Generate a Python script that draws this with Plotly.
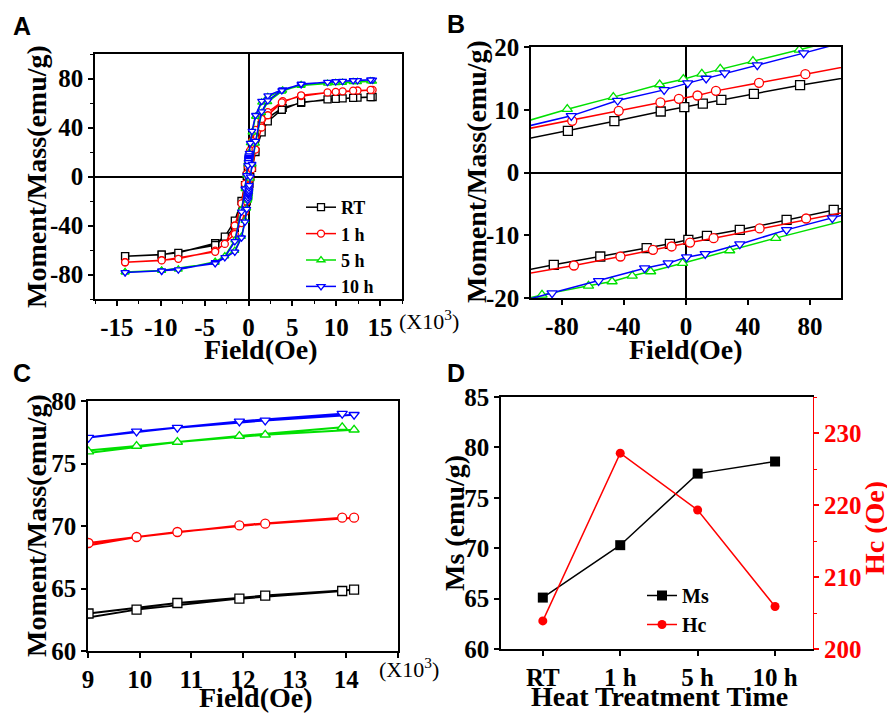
import plotly.graph_objects as go

FIG_W, FIG_H = 887, 713
SERIF = "Liberation Serif"
SANS = "Liberation Sans"

# ---------------- hysteresis loops (field in Oe, moment in emu/g) ----------------
SAMPLES = ["RT", "1 h", "5 h", "10 h"]
COLORS = ["#000000", "#FF0000", "#00E000", "#0000FF"]
SYMBOLS = ["square", "circle", "triangle-up", "triangle-down"]

# RT
RT_DESC_H = [14150, 12430, 10730, 9010, 6000, 3900, 2200, 1500, 800, 400, 200,
             73.6, 43.8, 22.8, 10.85, -1.1, -16.3, -46.2, -76.2,
             -200, -400, -800, -1560, -2700, -3800, -8000, -9900, -14070]
RT_DESC_M = [64.91, 64.43, 63.84, 63.00, 60.1, 56.1, 47.9, 42.0, 33.0, 26.0, 19.0,
             13.92, 12.54, 11.58, 10.99, 10.41, 9.72, 8.18, 6.64,
             0.5, -7.0, -20.0, -36.0, -49.0, -54.5, -62.3, -63.7, -65.0]
RT_ASC_H = [-14070, -9900, -3800, -1560, -800, -400, -200,
            -85.3, -55.3, -25.4, -10.4, 1.5, 13.5, 34.7, 64.9, 95.3,
            200, 400, 800, 1500, 2200, 3800, 6000, 9940, 11930, 13920]
RT_ASC_M = [-65.0, -63.8, -56.1, -42.0, -33.0, -26.0, -20.3,
            -14.71, -13.39, -12.06, -11.37, -10.73, -10.09, -9.14, -7.54, -5.95,
            -0.5, 7.0, 20.0, 36.0, 45.0, 54.5, 60.7, 63.31, 64.19, 64.80]

# 1 h
H1_DESC_H = [14150, 12430, 10730, 9010, 6000, 3900, 2200, 1500, 800, 400, 200,
             77.0, 47.1, 19.3, 7.4, -4.6, -16.5, -43.4, -73.4,
             -200, -400, -800, -1560, -2700, -3800, -8000, -9900, -14070]
H1_DESC_M = [70.67, 70.19, 69.52, 68.64, 65.6, 61.5, 52.5, 47.0, 38.0, 29.0, 21.3,
             15.67, 14.29, 13.01, 12.27, 11.74, 11.16, 9.83, 8.23,
             2.2, -6.0, -22.0, -40.0, -55.0, -60.5, -67.2, -68.3, -70.0]
H1_ASC_H = [-14070, -9900, -3800, -1560, -800, -400, -200,
            -72.3, -42.3, -21.3, -9.3, 2.6, 17.8, 47.5, 77.5,
            200, 400, 800, 1500, 2200, 3800, 6000, 9940, 11930, 13920]
H1_ASC_M = [-70.0, -68.5, -61.5, -47.0, -38.0, -29.0, -20.4,
            -14.82, -13.39, -12.32, -11.79, -11.16, -10.46, -8.92, -7.33,
            -1.57, 6.0, 22.0, 40.0, 50.0, 60.5, 66.3, 69.12, 70.05, 70.67]

# 5 h
H5_DESC_H = [14150, 12430, 10730, 9010, 6000, 3900, 2200, 1500, 800, 400, 200,
             73.1, 43.2, 22.1, 10.2, -1.7, -17.0, -46.9, -76.6,
             -200, -400, -800, -1560, -2700, -3800, -8000, -9900, -14070]
H5_DESC_M = [77.70, 77.30, 76.72, 75.95, 74.3, 70.3, 65.0, 60.5, 49.0, 36.0, 27.5,
             19.55, 17.74, 16.52, 15.72, 14.87, 14.02, 12.01, 10.09,
             1.1, -10.0, -27.0, -52.0, -65.0, -69.5, -75.8, -76.7, -78.0]
H5_ASC_H = [-14070, -9900, -3800, -1560, -800, -400, -200,
            -92.9, -62.9, -47.7, -34.7, -22.8, -2.2, 28.2, 57.9,
            200, 400, 800, 1500, 2200, 3800, 6000, 9940, 11930, 13920]
H5_ASC_M = [-78.0, -76.8, -70.3, -60.5, -49.0, -36.0, -25.9,
            -19.50, -18.06, -17.37, -16.47, -15.78, -14.45, -12.43, -10.46,
            -1.5, 10.0, 27.0, 52.0, 61.0, 69.5, 74.9, 76.40, 77.20, 77.90]

# 10 h
H10_DESC_H = [14150, 12430, 10730, 9010, 6000, 3900, 2200, 1500, 800, 400, 200,
              75.9, 46.0, 25.0, 13.0, 1.1, -14.1, -44.1, -74.0,
              -200, -400, -800, -1560, -2700, -3800, -8000, -9900, -14070]
H10_DESC_M = [78.90, 78.45, 77.87, 77.07, 75.1, 71.0, 66.0, 61.5, 50.0, 37.0, 27.3,
              19.02, 17.10, 15.83, 14.98, 14.24, 13.17, 11.47, 9.03,
              1.0, -10.0, -28.8, -53.0, -66.0, -70.2, -76.0, -77.0, -78.3]
H10_ASC_H = [-14070, -9900, -3800, -1560, -800, -400, -200,
             -86.4, -56.4, -26.7, -11.5, 0.4, 12.4, 34.7, 64.9, 94.4,
             200, 400, 800, 1500, 2200, 3800, 6000, 9940, 11930, 13920]
H10_ASC_M = [-78.3, -77.0, -71.0, -61.5, -50.0, -37.0, -26.7,
             -19.23, -17.26, -15.25, -14.45, -13.49, -12.96, -11.42, -9.14, -7.28,
             -0.3, 10.0, 28.8, 53.0, 62.0, 70.2, 75.5, 77.57, 78.37, 78.99]

LOOPS = [
    (RT_DESC_H + RT_ASC_H, RT_DESC_M + RT_ASC_M),
    (H1_DESC_H + H1_ASC_H, H1_DESC_M + H1_ASC_M),
    (H5_DESC_H + H5_ASC_H, H5_DESC_M + H5_ASC_M),
    (H10_DESC_H + H10_ASC_H, H10_DESC_M + H10_ASC_M),
]

# tick positions (labels written with a plain hyphen for negatives)
A_XTICKS = [-15, -10, -5, 0, 5, 10, 15]
A_YTICKS = [-80, -40, 0, 40, 80]
B_XTICKS = [-80, -40, 0, 40, 80]
B_YTICKS = [-20, -10, 0, 10, 20]
C_XTICKS = [9, 10, 11, 12, 13, 14, 15]
C_XLABELS = ["9", "10", "11", "12", "13", "14", " "]

# ---------------- saturation magnetisation and coercivity ----------------
TREATMENT = ["RT", "1 h", "5 h", "10 h"]
MS = [65.1, 70.3, 77.4, 78.6]
HC = [203.9, 227.2, 219.3, 205.9]


def dom_x(left, right):
    return [left / FIG_W, right / FIG_W]


def dom_y(top, bottom):
    return [1 - bottom / FIG_H, 1 - top / FIG_H]


def hyphen_labels(vals):
    return [str(v) for v in vals]


TICKFONT = dict(family=SERIF, size=25, color="black", weight="bold")


def axis(**kw):
    base = dict(showline=True, linecolor="black", linewidth=1.5, mirror=True,
                ticks="outside", ticklen=5, tickwidth=1.5, tickcolor="black",
                showgrid=False, zeroline=False, tickfont=TICKFONT,
                automargin=False)
    base.update(kw)
    return base


fig = go.Figure()

for i, name in enumerate(SAMPLES):
    h_oe, m = LOOPS[i]
    h_k = [v / 1000 for v in h_oe]
    line = dict(color=COLORS[i], width=1.5)
    mk = dict(symbol=SYMBOLS[i], color="white", line=dict(color=COLORS[i], width=1.3))
    fig.add_trace(go.Scatter(x=h_k, y=m, name=name, xaxis="x", yaxis="y",
                             mode="lines+markers", legend="legend", showlegend=True,
                             line=line, marker=dict(mk, size=7)))
    fig.add_trace(go.Scatter(x=h_oe, y=m, name=name, xaxis="x2", yaxis="y2",
                             mode="lines+markers", showlegend=False,
                             line=line, marker=dict(mk, size=9)))
    fig.add_trace(go.Scatter(x=h_k, y=m, name=name, xaxis="x3", yaxis="y3",
                             mode="lines+markers", showlegend=False,
                             line=dict(color=COLORS[i], width=2),
                             marker=dict(mk, size=9)))

fig.add_trace(go.Scatter(x=TREATMENT, y=MS, name="Ms", xaxis="x4", yaxis="y4",
                         mode="lines+markers", legend="legend2",
                         line=dict(color="black", width=1.5),
                         marker=dict(symbol="square", size=10, color="black")))
fig.add_trace(go.Scatter(x=TREATMENT, y=HC, name="Hc", xaxis="x4", yaxis="y5",
                         mode="lines+markers", legend="legend2",
                         line=dict(color="#FF0000", width=1.5),
                         marker=dict(symbol="circle", size=9, color="#FF0000")))

minor_a_x = dict(ticks="outside", ticklen=3, tickwidth=1.2, tickcolor="black", dtick=2.5, tick0=0)
minor_a_y = dict(ticks="outside", ticklen=3, tickwidth=1.2, tickcolor="black", dtick=20, tick0=0)
zero_line = dict(zeroline=True, zerolinecolor="black", zerolinewidth=1.5)

fig.update_layout(
    width=FIG_W, height=FIG_H, autosize=False,
    margin=dict(l=0, r=0, t=0, b=0, pad=0, autoexpand=False),
    paper_bgcolor="white", plot_bgcolor="white",
    # panel A
    xaxis=axis(domain=dom_x(95, 402), anchor="y", range=[-17.5, 17.5],
               tickmode="array", tickvals=A_XTICKS, ticktext=hyphen_labels(A_XTICKS),
               minor=minor_a_x, **zero_line),
    yaxis=axis(domain=dom_y(54, 299), anchor="x", range=[-100, 100],
               tickmode="array", tickvals=A_YTICKS, ticktext=hyphen_labels(A_YTICKS),
               minor=minor_a_y, **zero_line),
    # panel B
    xaxis2=axis(domain=dom_x(531, 841), anchor="y2", range=[-100, 100],
                tickmode="array", tickvals=B_XTICKS, ticktext=hyphen_labels(B_XTICKS),
                **zero_line),
    yaxis2=axis(domain=dom_y(47, 298), anchor="x2", range=[-20, 20],
                tickmode="array", tickvals=B_YTICKS, ticktext=hyphen_labels(B_YTICKS),
                **zero_line),
    # panel C
    xaxis3=axis(domain=dom_x(88, 398), anchor="y3", range=[9, 15],
                tickmode="array", tickvals=C_XTICKS, ticktext=C_XLABELS),
    yaxis3=axis(domain=dom_y(401, 651), anchor="x3", range=[60, 80],
                tick0=60, dtick=5),
    # panel D
    xaxis4=axis(domain=dom_x(501, 813), anchor="y4", range=[-0.54, 3.49],
                type="category"),
    yaxis4=axis(domain=dom_y(397, 649), anchor="x4", range=[60, 85],
                tick0=60, dtick=5, mirror=False),
    yaxis5=axis(overlaying="y4", anchor="x4", side="right", range=[200, 235],
                tickmode="array", tickvals=[200, 210, 220, 230],
                linecolor="#FF0000", linewidth=1.2, tickcolor="#FF0000",
                mirror=False,
                tickfont=dict(family=SERIF, size=25, color="#FF0000", weight="bold"),
                minor=dict(ticks="outside", ticklen=3, tickwidth=1.2,
                           tickcolor="#FF0000", dtick=5, tick0=200)),
    legend=dict(x=301 / FIG_W, y=1 - 189 / FIG_H, xanchor="left", yanchor="top",
                bgcolor="rgba(0,0,0,0)", borderwidth=0, tracegroupgap=0,
                font=dict(family=SERIF, size=18, color="black", weight="bold")),
    legend2=dict(x=642 / FIG_W, y=1 - 576 / FIG_H, xanchor="left", yanchor="top",
                 bgcolor="rgba(0,0,0,0)", borderwidth=0,
                 font=dict(family=SERIF, size=20, color="black", weight="bold")),
)


def label(text, x, y, size=28, angle=0, color="black", family=SERIF,
          xanchor="center", yanchor="middle"):
    fig.add_annotation(text=text, x=x / FIG_W, y=1 - y / FIG_H, xref="paper",
                       yref="paper", showarrow=False, textangle=angle,
                       xanchor=xanchor, yanchor=yanchor,
                       font=dict(family=family, size=size, color=color))


# axis titles
label("<b>Field(Oe)</b>", 261, 350)
label("<b>Moment/Mass(emu/g)</b>", 36, 177, angle=-90)
label("<b>Field(Oe)</b>", 686, 350)
label("<b>Moment/Mass(emu/g)</b>", 476, 172, angle=-90)
label("<b>Field(Oe)</b>", 256, 697)
label("<b>Moment/Mass(emu/g)</b>", 36, 526, angle=-90)
label("<b>Heat Treatment Time</b>", 659, 696)
label("<b>Ms (emu/g)</b>", 454, 523, angle=-90)
label("<b>Hc (Oe)</b>", 874, 528, angle=-90, color="#FF0000")

# field multipliers
label("(X10<sup>3</sup>)", 397, 320, size=22, xanchor="left")
label("(X10<sup>3</sup>)", 377, 668, size=22, xanchor="left")

# panel letters
for letter, lx, ly in [("A", 11, 26), ("B", 445, 24), ("C", 11, 373), ("D", 445, 373)]:
    label("<b>" + letter + "</b>", lx, ly, size=25, family=SANS, xanchor="left")

fig.write_html("out.html")
